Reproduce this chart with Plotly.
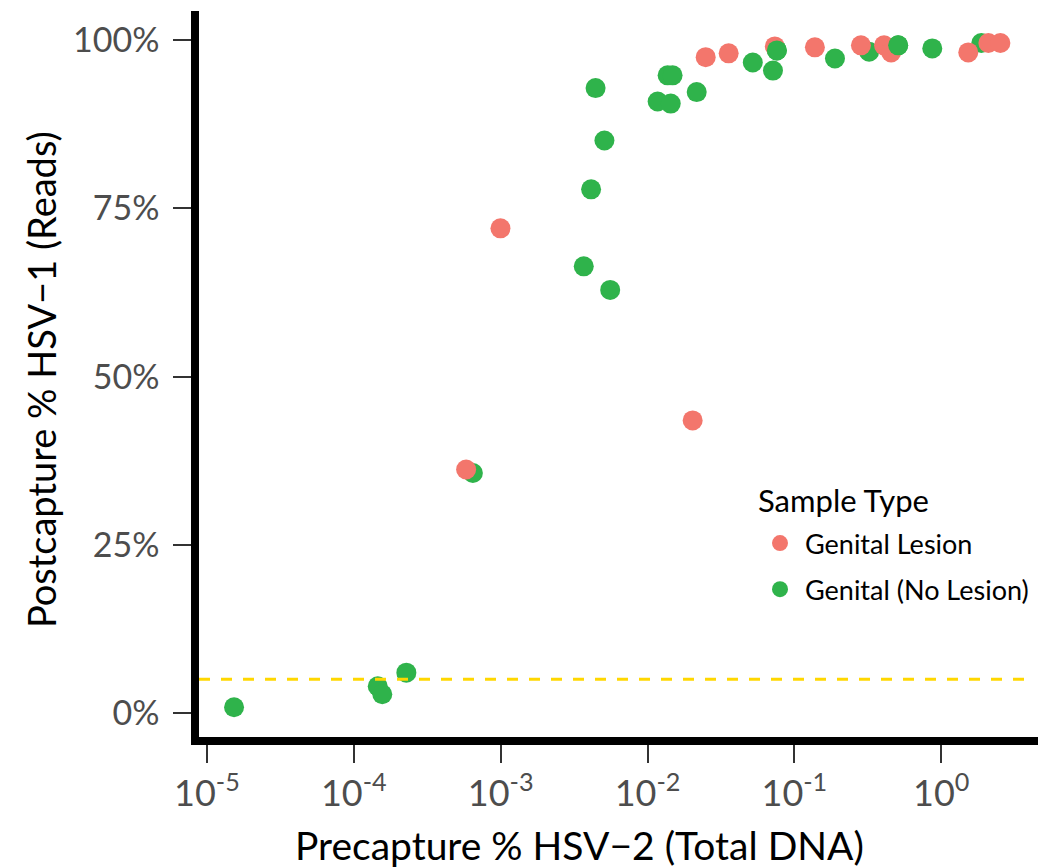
import plotly.graph_objects as go

# ---- data ----
lesion_x = [5.82e-4, 9.97e-4, 0.0203, 0.0249, 0.0357, 0.0736, 0.138, 0.284, 0.408, 0.456, 1.528, 2.094, 2.528]
lesion_y = [36.2, 72.05, 43.5, 97.5, 98.07, 99.1, 98.96, 99.25, 99.25, 98.2, 98.2, 99.6, 99.6]

nolesion_x = [1.53e-5, 1.456e-4, 1.563e-4, 2.28e-4, 6.47e-4, 3.68e-3, 4.13e-3, 4.43e-3, 5.09e-3, 5.57e-3,
              0.01172, 0.01371, 0.01482, 0.01439, 0.02163, 0.0521, 0.0715, 0.0760, 0.189, 0.323,
              0.509, 0.869, 1.875]
nolesion_y = [0.85, 3.97, 2.78, 6.0, 35.68, 66.4, 77.85, 92.9, 85.1, 62.9,
              90.9, 94.8, 94.8, 90.6, 92.3, 96.7, 95.5, 98.5, 97.3, 98.3,
              99.25, 98.8, 99.6]
# no-lesion points drawn in front of lesion points
nolesion_front = [17, 20]

threshold = 5
x_tickvals = [1e-5, 1e-4, 1e-3, 1e-2, 1e-1, 1]
x_ticktext = ["10<sup>-5</sup>", "10<sup>-4</sup>", "10<sup>-3</sup>", "10<sup>-2</sup>", "10<sup>-1</sup>", "10<sup>0</sup>"]
y_tickvals = [0, 25, 50, 75, 100]
y_ticktext = ["0%", "25%", "50%", "75%", "100%"]

RED = "#F3766C"
GREEN = "#2FB34B"
FONT = "Lato"
MS = 20

fig = go.Figure()
fig.add_trace(go.Scatter(x=nolesion_x, y=nolesion_y, mode="markers", name="Genital (No Lesion)",
                         legendgroup="b", legendrank=2,
                         marker=dict(color=GREEN, size=MS, line=dict(width=0))))
fig.add_trace(go.Scatter(x=lesion_x, y=lesion_y, mode="markers", name="Genital Lesion",
                         legendgroup="a", legendrank=1,
                         marker=dict(color=RED, size=MS, line=dict(width=0))))
fig.add_trace(go.Scatter(x=[nolesion_x[i] for i in nolesion_front], y=[nolesion_y[i] for i in nolesion_front],
                         mode="markers", showlegend=False, legendgroup="b",
                         marker=dict(color=GREEN, size=MS, line=dict(width=0))))

L, R, T, B = 199, 11, 11, 131
W, H = 1049, 868
pw, ph = W - L - R, H - T - B

def px(xp):
    return (xp - L) / pw

def py(yp):
    return (H - B - yp) / ph

fig.add_shape(type="line", xref="paper", yref="y", x0=0, x1=px(1028), y0=threshold, y1=threshold,
              line=dict(color="#FFD700", width=3, dash="11px,11px"), layer="above")

fig.update_layout(
    width=W, height=H,
    margin=dict(l=L, r=R, t=T, b=B, pad=0, autoexpand=False),
    plot_bgcolor="white", paper_bgcolor="white",
    font=dict(family=FONT, color="black"),
    xaxis=dict(type="log", range=[-5.054, 0.659], showgrid=False, zeroline=False,
               showline=True, linecolor="black", linewidth=7.5,
               ticks="outside", ticklen=18, tickwidth=2, tickcolor="#333333",
               tickvals=x_tickvals, ticktext=x_ticktext,
               tickfont=dict(family=FONT, size=36, color="#4D4D4D")),
    yaxis=dict(range=[-3.57, 104.36], showgrid=False, zeroline=False,
               showline=True, linecolor="black", linewidth=7.5,
               ticks="outside", ticklen=18, tickwidth=2, tickcolor="#333333",
               tickvals=y_tickvals, ticktext=y_ticktext, ticklabelstandoff=7,
               tickfont=dict(family=FONT, size=34, color="#4D4D4D")),
    legend=dict(x=px(755), y=py(519), xanchor="left", yanchor="top",
                bgcolor="rgba(0,0,0,0)", itemwidth=40,
                font=dict(family=FONT, size=27, color="black"),
                traceorder="grouped", tracegroupgap=8),
    annotations=[
        dict(text="Sample Type", xref="paper", yref="paper",
             x=px(756), y=py(500), xanchor="left", yanchor="middle", showarrow=False,
             font=dict(family=FONT, size=31, color="black")),
        dict(text="Precapture % HSV\u22122 (Total DNA)", xref="paper", yref="paper",
             x=px(579), y=py(845), xanchor="center", yanchor="middle", showarrow=False,
             font=dict(family=FONT, size=39, color="black")),
        dict(text="Postcapture % HSV\u22121 (Reads)", xref="paper", yref="paper",
             x=px(41), y=py(380), xanchor="center", yanchor="middle", showarrow=False,
             textangle=-90, font=dict(family=FONT, size=38, color="black")),
    ],
)

fig.write_html("out.html", config={"displayModeBar": False},
               post_script="document.body.style.margin='0px';document.body.style.overflow='hidden';")
